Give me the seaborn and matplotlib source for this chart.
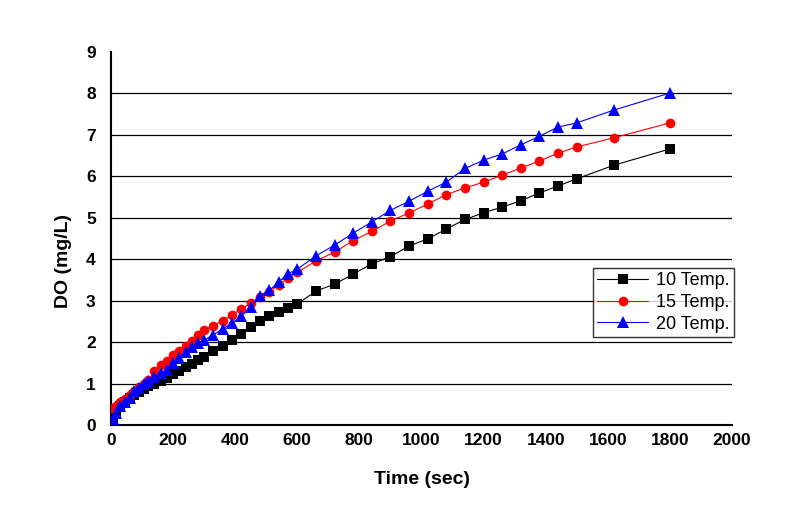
import numpy as np
import pandas as pd
import matplotlib
matplotlib.use("Agg")
import matplotlib.pyplot as plt
import seaborn as sns
from matplotlib.ticker import MultipleLocator

time_sec = [5, 15, 30, 45, 60, 75, 90, 105, 120, 140, 160, 180, 200, 220, 240, 260, 280, 300,
            330, 360, 390, 420, 450, 480, 510, 540, 570, 600, 660, 720, 780, 840, 900, 960,
            1020, 1080, 1140, 1200, 1260, 1320, 1380, 1440, 1500, 1620, 1800]

do_10 = [0.18, 0.30, 0.45, 0.55, 0.65, 0.73, 0.80, 0.86, 0.93, 1.00, 1.06, 1.13, 1.22, 1.30, 1.40,
         1.48, 1.57, 1.65, 1.78, 1.91, 2.06, 2.20, 2.36, 2.50, 2.62, 2.73, 2.82, 2.92, 3.23, 3.40,
         3.64, 3.89, 4.06, 4.32, 4.49, 4.73, 4.96, 5.12, 5.26, 5.41, 5.60, 5.77, 5.94, 6.27, 6.66]

do_15 = [0.40, 0.45, 0.55, 0.63, 0.72, 0.82, 0.92, 1.00, 1.08, 1.30, 1.45, 1.55, 1.68, 1.78, 1.90,
         2.02, 2.18, 2.29, 2.40, 2.52, 2.66, 2.80, 2.94, 3.09, 3.22, 3.38, 3.55, 3.68, 3.96, 4.17,
         4.45, 4.67, 4.92, 5.12, 5.33, 5.56, 5.72, 5.86, 6.03, 6.20, 6.37, 6.56, 6.71, 6.93, 7.29]

do_20 = [0.15, 0.30, 0.45, 0.55, 0.65, 0.82, 0.90, 0.98, 1.05, 1.15, 1.25, 1.33, 1.50, 1.62, 1.75,
         1.88, 1.97, 2.05, 2.18, 2.32, 2.46, 2.62, 2.85, 3.12, 3.25, 3.45, 3.65, 3.76, 4.08, 4.34,
         4.63, 4.90, 5.18, 5.40, 5.64, 5.86, 6.19, 6.39, 6.54, 6.76, 6.97, 7.19, 7.29, 7.60, 8.01]

series_names = ["10 Temp.", "15 Temp.", "20 Temp."]
colors = ["#000000", "#ff0000", "#0000ff"]
markers = ["s", "o", "^"]
marker_sizes = [6.5, 7, 8.5]

df = pd.concat([
    pd.DataFrame({"Time": time_sec, "DO": vals, "Series": name})
    for name, vals in zip(series_names, [do_10, do_15, do_20])
], ignore_index=True)

sns.set_style("white")
plt.rcParams["font.family"] = ["Liberation Sans", "DejaVu Sans"]
plt.rcParams["text.color"] = "black"
plt.rcParams["axes.labelcolor"] = "black"
plt.rcParams["xtick.color"] = "black"
plt.rcParams["ytick.color"] = "black"

fig = plt.figure(figsize=(8.08, 5.28), dpi=100)
ax = fig.add_axes([111 / 808, 1 - 425 / 528, 621 / 808, 373 / 528])

for y in range(1, 9):
    ax.axhline(y, color="black", lw=0.9, zorder=0)

sns.lineplot(data=df, x="Time", y="DO", hue="Series", style="Series",
             hue_order=series_names, style_order=series_names,
             palette=colors, markers=markers, dashes=False,
             markersize=7, markeredgewidth=0, linewidth=0.8, ax=ax, zorder=3)

data_lines = [l for l in ax.lines if len(l.get_xdata()) == len(time_sec)]
for line, ms in zip(data_lines, marker_sizes):
    line.set_markersize(ms)

ax.set_xlim(0, 2000)
ax.set_ylim(0, 9)
ax.xaxis.set_major_locator(MultipleLocator(200))
ax.xaxis.set_minor_locator(MultipleLocator(100))
ax.yaxis.set_major_locator(MultipleLocator(1))
ax.yaxis.set_minor_locator(MultipleLocator(0.5))
ax.tick_params(axis="both", which="major", direction="in", length=6, width=1.2,
               labelsize=12.5, colors="black")
ax.tick_params(axis="x", which="major", pad=6)
ax.tick_params(axis="y", which="major", pad=11)
ax.tick_params(axis="both", which="minor", direction="in", length=3.5, width=1.2)
for lab in ax.get_xticklabels() + ax.get_yticklabels():
    lab.set_fontweight("bold")

for s in ["top", "right"]:
    ax.spines[s].set_visible(False)
for s in ["left", "bottom"]:
    ax.spines[s].set_color("black")
    ax.spines[s].set_linewidth(1.5)

ax.set_xlabel("Time (sec)", fontsize=14, fontweight="bold")
ax.set_ylabel("DO (mg/L)", fontsize=14, fontweight="bold")
ax.xaxis.set_label_coords(0.5, -0.145)
ax.xaxis.label.set_va("center")
ax.yaxis.set_label_coords(-0.0757, 0.44)
ax.yaxis.label.set_va("center")

handles, labels = ax.get_legend_handles_labels()
for h, ms in zip(handles, marker_sizes):
    h.set_markersize(ms)
leg = ax.legend(handles, labels, loc="upper left", bbox_to_anchor=(0.776, 0.421),
                frameon=True, fancybox=False, edgecolor="black", fontsize=13,
                handlelength=2.8, borderpad=0.25, labelspacing=0.25, handletextpad=0.45,
                borderaxespad=0)
leg.get_frame().set_linewidth(1.0)

fig.savefig("out.png", dpi=100, facecolor="white")
